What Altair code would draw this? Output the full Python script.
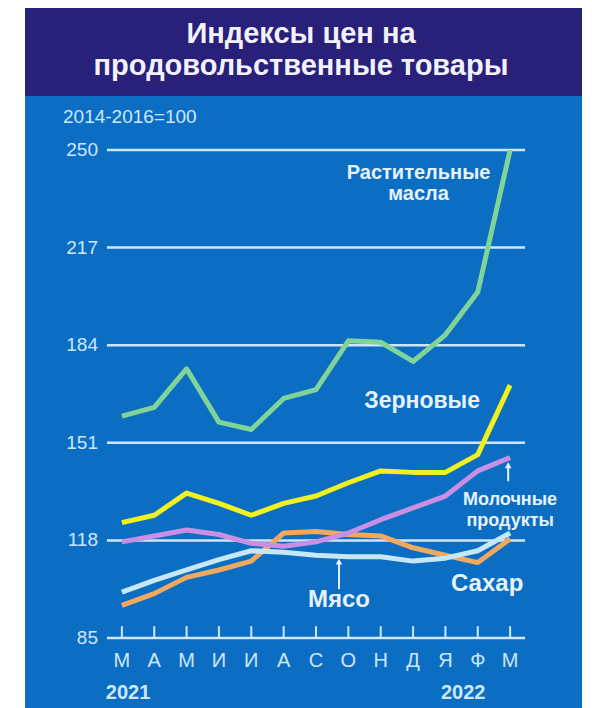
import altair as alt
import pandas as pd

# ---------------- data ----------------
months = ["М", "А", "М", "И", "И", "А", "С", "О", "Н", "Д", "Я", "Ф", "М"]
oils = [160, 163, 176, 158, 155.5, 166, 169, 185.5, 185, 178.5, 187.5, 202, 250]
cereals = [124, 126.5, 134, 130.5, 126.5, 130.5, 133, 137.5, 141.5, 141, 141, 147, 170.5]
dairy = [117.5, 119.5, 121.5, 120, 117, 116, 117.5, 120.5, 125, 129, 133, 141.5, 146]
meat = [100.5, 104.5, 108, 111.5, 114.5, 114, 113, 112.5, 112.5, 111, 112, 114.5, 120.5]
sugar = [96, 100, 105.5, 108, 111, 120.5, 121, 120, 119.5, 115.5, 113, 110.5, 118.5]
grid_values = [85, 118, 151, 184, 217, 250]

series_names = ["Сахар", "Мясо", "Молочные продукты", "Зерновые", "Растительные масла"]
series_values = [sugar, meat, dairy, cereals, oils]
series_colors = ["#f2a95e", "#c6e7f8", "#c88fe4", "#f2f01e", "#80d497"]

title_lines = ["Индексы цен на", "продовольственные товары"]
unit_note = "2014-2016=100"

# annotations (x in month index, y in index units)
annotations = [
    {"text": "Растительные", "x": 9.17, "y": 242.3, "size": 20},
    {"text": "масла", "x": 9.17, "y": 235.2, "size": 20},
    {"text": "Зерновые", "x": 9.28, "y": 165.1, "size": 23},
    {"text": "Молочные", "x": 12.0, "y": 131.6, "size": 18},
    {"text": "продукты", "x": 12.0, "y": 124.6, "size": 18},
    {"text": "Сахар", "x": 11.29, "y": 103.3, "size": 24},
    {"text": "Мясо", "x": 6.71, "y": 97.9, "size": 24},
]
years = [{"text": "2021", "x": 0.19, "y": 66.4}, {"text": "2022", "x": 10.55, "y": 66.4}]
arrows = [
    {"x": 11.94, "y0": 138.0, "y1": 143.4},
    {"x": 6.71, "y0": 101.5, "y1": 110.8},
]

# ---------------- layout ----------------
W, H = 418, 488
LIGHT = "#cfe6ff"
NAVY = "#29207a"
BLUE = "#0b6ec3"
FONT = "Liberation Sans, Arial, sans-serif"

xs = alt.Scale(domain=[-0.46, 12.46], nice=False, zero=False)
ys = alt.Scale(domain=[85, 250], nice=False, zero=False)

one = alt.Data(values=[{"a": 1}])

blue_bg = alt.Chart(one).mark_rect(fill=BLUE).encode(
    x=alt.value(-82), x2=alt.value(475), y=alt.value(-54), y2=alt.value(560)
)
navy_bg = alt.Chart(one).mark_rect(fill=NAVY).encode(
    x=alt.value(-82), x2=alt.value(475), y=alt.value(-145), y2=alt.value(-54)
)

grid_df = pd.DataFrame({"v": grid_values})
grid = alt.Chart(grid_df).mark_rule(color=LIGHT, strokeWidth=2.5).encode(
    y=alt.Y("v:Q", scale=ys, axis=None),
    x=alt.value(0), x2=alt.value(W),
)
ylabels = alt.Chart(grid_df).mark_text(
    font=FONT, fontSize=19, color=LIGHT, align="right", baseline="middle",
).encode(
    y=alt.Y("v:Q", scale=ys, axis=None),
    x=alt.value(-9),
    text="v:N",
)

tick_df = pd.DataFrame({"i": list(range(len(months))), "m": months, "y0": 85, "y1": 89})
ticks = alt.Chart(tick_df).mark_rule(color=LIGHT, strokeWidth=2).encode(
    x=alt.X("i:Q", scale=xs, axis=None),
    y=alt.Y("y0:Q", scale=ys, axis=None),
    y2="y1:Q",
)
xlabels = alt.Chart(tick_df).mark_text(
    font=FONT, fontSize=20, color=LIGHT, align="center", baseline="middle",
).encode(
    x=alt.X("i:Q", scale=xs, axis=None),
    y=alt.value(H + 23),
    text="m:N",
)

line_layers = []
for name, vals, col in zip(series_names, series_values, series_colors):
    d = pd.DataFrame({"i": list(range(len(vals))), "value": vals, "series": name})
    line_layers.append(
        alt.Chart(d).mark_line(color=col, strokeWidth=5, strokeJoin="round").encode(
            x=alt.X("i:Q", scale=xs, axis=None),
            y=alt.Y("value:Q", scale=ys, axis=None),
        )
    )

ann_layers = []
for a in annotations:
    ann_layers.append(
        alt.Chart(alt.Data(values=[a])).mark_text(
            font=FONT, fontWeight="bold", fontSize=a["size"], color="#e6f2ff",
            align="center", baseline="middle",
        ).encode(
            x=alt.X("x:Q", scale=xs, axis=None),
            y=alt.Y("y:Q", scale=ys, axis=None),
            text="text:N",
        )
    )

year_layer = alt.Chart(alt.Data(values=years)).mark_text(
    font=FONT, fontSize=20, fontWeight="bold", color=LIGHT, align="center",
    baseline="middle",
).encode(
    x=alt.X("x:Q", scale=xs, axis=None),
    y=alt.Y("y:Q", scale=ys, axis=None),
    text="text:N",
)

arrow_rules = alt.Chart(alt.Data(values=arrows)).mark_rule(
    color="#e6f2ff", strokeWidth=2).encode(
    x=alt.X("x:Q", scale=xs, axis=None),
    y=alt.Y("y0:Q", scale=ys, axis=None),
    y2="y1:Q",
)
arrow_heads = alt.Chart(alt.Data(values=arrows)).mark_point(
    shape="triangle-up", filled=True, size=45, color="#e6f2ff", opacity=1).encode(
    x=alt.X("x:Q", scale=xs, axis=None),
    y=alt.Y("y1:Q", scale=ys, axis=None),
)

title_layers = []
for k, t in enumerate(title_lines):
    title_layers.append(
        alt.Chart(one).mark_text(
            text=t, font=FONT, fontWeight="bold", fontSize=29, color="#f2f2ff",
            align="center", baseline="alphabetic",
        ).encode(x=alt.value(194), y=alt.value(-107 + 32 * k))
    )

note = alt.Chart(one).mark_text(
    text=unit_note, font=FONT, fontSize=19, color=LIGHT,
    align="left", baseline="middle",
).encode(x=alt.value(-44), y=alt.value(-33))

chart = alt.layer(
    blue_bg, navy_bg, grid, ticks, ylabels, xlabels, *line_layers,
    arrow_rules, arrow_heads, *ann_layers, year_layer, *title_layers, note,
).properties(
    width=W, height=H,
    autosize=alt.AutoSizeParams(type="none"),
    padding={"left": 99, "top": 142, "right": 59, "bottom": 70},
).configure_view(stroke=None).configure(background="white")

chart.save("out.html", embed_options={"renderer": "svg", "actions": False})
